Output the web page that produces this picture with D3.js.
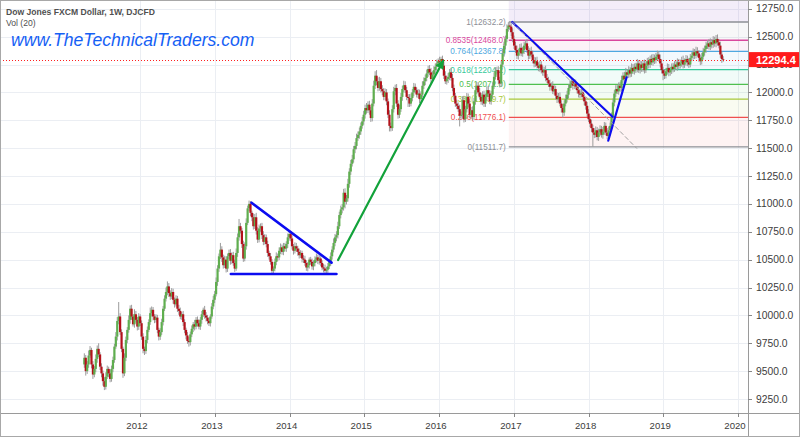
<!DOCTYPE html>
<html><head><meta charset="utf-8">
<script src="https://cdn.jsdelivr.net/npm/d3@7"></script>
<style>html,body{margin:0;padding:0;background:#fff;}svg{display:block;}</style>
</head><body><svg id="c" width="800" height="437"></svg>
<script>
// ---------- DATA ----------
const startDate = "2011-04-04";   // first weekly candle
const firstOpen = 9560;
const closes = [
9620,9500,9560,9640,9690,9560,9470,9520,9610,9700,
9650,9540,9480,9410,9360,9450,9520,9480,9430,9520,
9600,9720,9810,9950,9990,9850,9700,9480,9620,9780,
9870,9960,10060,9990,9920,10010,9960,9900,9990,9930,
9810,9700,9680,9780,9870,9940,10020,10050,9990,9960,
9980,9870,9810,9850,9940,10060,10150,10210,10260,10200,
10170,10210,10140,10100,10150,10060,10040,9990,10010,9940,
9870,9820,9770,9760,9830,9880,9920,9900,9960,9930,
9900,9960,10010,10050,10000,9980,9950,9930,9990,10080,
10140,10190,10300,10420,10530,10590,10520,10450,10500,10420,
10530,10560,10490,10540,10470,10420,10560,10700,10800,10760,
10640,10510,10620,10830,10960,11000,10920,10880,10800,10880,
10760,10680,10780,10800,10720,10660,10700,10640,10560,10530,
10480,10400,10420,10480,10530,10520,10580,10610,10570,10620,
10600,10640,10700,10730,10690,10620,10580,10620,10600,10570,
10540,10560,10510,10500,10470,10430,10450,10500,10480,10440,
10470,10500,10520,10490,10510,10470,10430,10420,10400,10410,
10440,10480,10530,10590,10650,10700,10720,10800,10900,10950,
10970,11100,11020,11050,11180,11290,11360,11400,11490,11520,
11590,11620,11650,11700,11740,11800,11860,11840,11890,11840,
11770,11900,12060,12150,12100,12040,12100,12030,12010,11960,
12000,11920,11800,11700,11680,11850,12010,12040,11900,11800,
11850,11960,12030,12065,12020,11960,11950,11900,11950,12000,
12050,12020,11980,11990,11940,11980,12060,12100,12130,12170,
12210,12180,12120,12160,12200,12230,12260,12280,12270,12300,
12240,12150,12100,12120,12140,12180,12130,12040,11970,11900,
11880,11850,11790,11800,11930,11760,11850,11960,11900,11800,
11840,11780,11920,12020,12060,12000,11960,11920,11980,11900,
11960,12020,11990,11920,11980,12060,12140,12190,12200,12110,
12080,12250,12350,12420,12480,12570,12600,12590,12540,12480,
12420,12380,12330,12360,12400,12350,12380,12420,12440,12380,
12330,12370,12340,12290,12260,12280,12240,12220,12250,12200,
12180,12200,12130,12110,12080,12050,12060,12010,12030,11970,
11940,11960,11900,11860,11820,11900,11940,11980,12040,12070,
12100,12060,12080,12050,12020,11990,11980,12000,11960,11920,
11880,11810,11760,11720,11680,11640,11620,11660,11600,11640,
11670,11620,11650,11700,11640,11610,11660,11700,11780,11910,
11990,12030,12010,12060,12040,12110,12150,12120,12180,12160,
12200,12170,12220,12190,12230,12210,12260,12200,12250,12220,
12260,12200,12240,12280,12250,12300,12270,12310,12290,12320,
12340,12300,12260,12200,12170,12150,12190,12220,12180,12200,
12230,12210,12250,12230,12270,12240,12260,12290,12250,12270,
12300,12270,12250,12310,12330,12360,12330,12370,12350,12310,
12280,12320,12360,12390,12420,12440,12410,12450,12430,12470,
12440,12480,12450,12420,12340,12300,12294.4
];
// wick extension above max(open,close) and below min(open,close), in index points
const upWick = [
40,25,30,45,35,20,30,25,40,30, 50,20,30,25,35,40,30,20,35,30,
30,25,40,35,130,30,25,20,40,30, 25,40,30,35,20,45,30,25,30,20,
25,30,20,35,30,25,50,30,25,20, 30,25,20,35,30,25,30,40,45,30,
25,35,30,20,30,25,35,30,20,30, 25,20,30,35,25,30,20,40,25,30,
35,25,30,20,35,30,25,30,20,30, 35,30,40,30,25,60,30,25,35,30,
25,30,35,25,30,30,40,35,65,30, 25,30,35,40,25,30,25,20,35,30,
40,30,35,25,30,35,30,25,30,20, 30,25,20,30,35,25,30,35,25,30,
30,25,35,30,25,30,20,35,30,25, 30,25,20,30,35,25,30,20,25,30,
25,30,35,25,30,20,25,30,35,25, 30,25,35,30,40,30,35,40,30,35,
30,35,40,30,45,30,35,40,30,35, 40,30,35,30,40,35,30,45,30,35,
30,40,45,40,50,35,40,30,35,30, 35,30,25,40,30,35,40,30,35,30,
40,35,30,40,35,30,25,35,40,30, 35,30,25,40,35,30,40,35,30,35,
30,35,40,30,35,30,35,25,40,20, 30,35,40,30,35,30,40,35,30,25,
35,30,40,30,35,40,30,35,30,40, 30,35,30,40,35,30,40,35,30,35,
30,35,40,30,35,30,40,35,30,35, 30,35,40,35,30,40,30,32.2,30,35,
30,35,40,30,35,40,30,35,30,40, 35,30,40,35,30,35,40,30,35,30,
35,30,40,35,30,35,30,40,35,30, 30,35,40,30,35,30,40,35,30,40,
35,30,40,35,30,35,40,30,35,30, 30,35,40,30,35,30,40,35,30,35,
35,30,40,35,30,40,35,30,40,35, 30,35,40,30,35,40,30,35,40,30,
35,30,40,35,30,35,40,30,35,30, 30,35,40,30,35,30,40,35,30,35,
35,30,40,35,30,35,30,40,35,30, 30,35,30,40,35,30,35,30,40,35,
35,30,40,35,30,35,30,40,35,30, 30,35,40,30,35,30,40,35,30,35,
30,35,40,30,35,30,25
];
const downWick = [
30,40,25,30,20,35,40,25,30,35, 25,30,35,40,30,25,20,35,30,25,
30,25,20,35,30,25,30,40,25,30, 30,25,35,30,20,30,25,35,30,25,
30,40,35,25,30,20,25,30,35,30, 25,30,35,30,25,30,20,25,30,35,
30,25,35,30,20,30,35,25,30,35, 30,35,25,40,30,25,30,35,25,30,
25,30,35,25,30,35,30,25,30,20, 25,30,20,35,30,25,40,30,25,35,
30,25,35,30,25,30,20,35,30,25, 35,30,25,30,20,25,30,35,30,25,
35,30,25,30,35,30,25,30,35,30, 25,30,30,25,30,35,25,30,25,30,
25,30,35,30,25,30,35,25,30,35, 30,25,35,30,25,30,35,30,25,30,
35,30,25,30,35,30,25,35,30,25, 30,25,35,30,25,30,35,30,25,30,
35,30,60,25,30,35,30,25,30,35, 30,25,35,30,25,30,35,30,25,40,
35,30,25,30,35,30,25,30,35,30, 30,35,30,50,30,25,30,35,30,35,
30,25,35,30,25,30,80,30,25,30, 35,30,25,30,35,30,25,30,35,30,
30,25,35,30,25,30,35,30,25,30, 35,30,25,30,35,30,25,30,35,30,
30,25,95,30,35,30,25,30,35,30, 35,30,25,30,35,30,25,30,35,30,
30,35,30,25,30,35,30,25,30,35, 35,30,25,30,35,30,25,30,35,30,
30,25,30,35,30,25,30,35,30,25, 35,30,25,30,35,30,25,30,35,30,
30,35,30,25,30,35,30,25,30,35, 35,30,25,40,45,30,25,30,35,30,
30,35,30,25,30,35,30,25,30,35, 35,30,25,30,35,128.3,30,25,30,35,
30,25,35,30,25,30,35,30,25,30, 35,30,25,30,35,30,25,30,35,30,
30,35,30,25,30,35,30,25,30,35, 35,30,25,30,35,30,25,30,35,30,
30,25,35,30,60,30,25,30,35,30, 35,30,25,30,35,30,25,30,35,30,
30,35,30,25,30,35,30,25,30,35, 35,30,25,30,35,30,25,30,35,30,
30,35,30,25,30,35,20
];
const yTickValues = [9250,9500,9750,10000,10250,10500,10750,11000,11250,11500,11750,12000,12250,12500,12750];
const xTickYears = [2012,2013,2014,2015,2016,2017,2018,2019,2020];
const lastPrice = 12294.4;
const fibRatios = [0, 0.236, 0.382, 0.5, 0.618, 0.764, 0.8535, 1];
const fibColors = ["#8d8f96","#ef4f4f","#a9c93a","#4fc04f","#35c99b","#4ea8e0","#d9479e","#8d8f96"];
const trendLines = [
  {from:["2013-06-29",11011], to:["2014-07-25",10473], color:"#0c0cf0", w:2.6},
  {from:["2013-03-20",10371], to:["2014-08-18",10371], color:"#0c0cf0", w:2.6},
  {from:["2014-08-26",10497], to:["2016-01-22",12285], color:"#12a23a", w:2.2, arrow:true},
  {from:["2016-12-24",12632.2], to:["2018-04-28",11782], color:"#0c0cf0", w:2.2},
  {from:["2018-04-07",11567], to:["2018-07-06",12136], color:"#0c0cf0", w:2.2},
  {from:["2016-12-24",12632.2], to:["2018-08-24",11499], color:"#a0a0a0", w:1, dash:"4,3"}
];
const titleText = "Dow Jones FXCM Dollar, 1W, DJCFD";
const volText = "Vol (20)";
const watermarkText = "www.TheTechnicalTraders.com";

// ---------- LAYOUT ----------
const W = 800, H = 437, plotR = 748, plotB = 413;
const svg = d3.select("#c");
const parse = d3.timeParse("%Y-%m-%d");
const x = d3.scaleTime().domain([parse("2010-02-16"), parse("2020-02-19")]).range([0, plotR]);
const y = d3.scaleLinear().domain([9124.5, 12829]).range([plotB, 0]);

const n = Math.min(closes.length, upWick.length, downWick.length);
const t0 = parse(startDate);
const candles = d3.range(n).map(i => {
  const o = i === 0 ? firstOpen : closes[i-1];
  const c = closes[i];
  return {date: d3.timeDay.offset(t0, 7*i), o, c,
          h: Math.max(o,c) + upWick[i], l: Math.min(o,c) - downWick[i]};
});

svg.append("rect").attr("width", W).attr("height", H).attr("fill", "#fff");

// clip
const defs = svg.append("defs");
defs.append("clipPath").attr("id","plot")
  .append("rect").attr("x",0).attr("y",0).attr("width",plotR).attr("height",plotB);
const g = svg.append("g").attr("clip-path","url(#plot)");

// grid
g.selectAll(".hg").data(yTickValues).enter().append("line")
  .attr("x1",0).attr("x2",plotR).attr("y1",d=>Math.round(y(d))+0.5).attr("y2",d=>Math.round(y(d))+0.5)
  .attr("stroke","#ebeef3").attr("stroke-width",1);
g.selectAll(".vg").data(xTickYears).enter().append("line")
  .attr("y1",0).attr("y2",plotB)
  .attr("x1",d=>Math.round(x(new Date(d,0,1)))+0.5).attr("x2",d=>Math.round(x(new Date(d,0,1)))+0.5)
  .attr("stroke","#ebeef3").attr("stroke-width",1);

// fib retracement from data
const pk = d3.maxIndex(candles, d=>d.h);
const lo = pk + d3.minIndex(candles.slice(pk), d=>d.l);
const fHigh = candles[pk].h, fLow = candles[lo].l;
const fx = x(candles[pk].date) - 1;
const levels = fibRatios.map((r,i)=>({r, p: fLow + r*(fHigh-fLow), color: fibColors[i]}));
g.append("rect").attr("x",fx).attr("y",0).attr("width",plotR-fx).attr("height",y(fHigh))
  .attr("fill","#8e5cc4").attr("opacity",0.11);
for (let i=0;i<levels.length-1;i++){
  const a = levels[i], b = levels[i+1];
  g.append("rect").attr("x",fx).attr("y",y(b.p)).attr("width",plotR-fx).attr("height",y(a.p)-y(b.p))
    .attr("fill",b.color).attr("opacity",0.07);
}
levels.forEach(L=>{
  g.append("line").attr("x1",fx).attr("x2",plotR).attr("y1",y(L.p)).attr("y2",y(L.p))
    .attr("stroke",L.color).attr("stroke-width",1.4);
  g.append("text").attr("x",fx-3).attr("y",y(L.p)+3).attr("text-anchor","end")
    .attr("font-family","Liberation Sans, Arial, sans-serif").attr("font-size",8.2)
    .attr("fill",L.color).text(`${L.r}(${L.p.toFixed(1)})`);
});

// candles
const cg = g.append("g");
cg.selectAll(".wk").data(candles).enter().append("line")
  .attr("x1",d=>x(d.date)).attr("x2",d=>x(d.date)).attr("y1",d=>y(d.h)).attr("y2",d=>y(d.l))
  .attr("stroke","#9c9c9c").attr("stroke-width",1);
cg.selectAll(".bd").data(candles).enter().append("rect")
  .attr("x",d=>x(d.date)-1.1).attr("width",2.2)
  .attr("y",d=>y(Math.max(d.o,d.c))).attr("height",d=>Math.max(0.8, Math.abs(y(d.o)-y(d.c))))
  .attr("fill",d=>d.c>=d.o?"#5fae4f":"#b3121b");

// last price dotted line
const ly = Math.round(y(lastPrice)) + 0.5;
g.append("line").attr("x1",0).attr("x2",plotR).attr("y1",ly).attr("y2",ly)
  .attr("stroke","#ff2020").attr("stroke-width",1).attr("stroke-dasharray","1,2");

// trend lines
defs.append("marker").attr("id","arr").attr("viewBox","0 0 10 10").attr("refX",9).attr("refY",5)
  .attr("markerWidth",5).attr("markerHeight",4).attr("orient","auto").attr("markerUnits","strokeWidth")
  .append("path").attr("d","M0,0 L10,5 L0,10 z").attr("fill","#12a23a");
trendLines.forEach(t=>{
  const l = g.append("line")
    .attr("x1",x(parse(t.from[0]))).attr("y1",y(t.from[1]))
    .attr("x2",x(parse(t.to[0]))).attr("y2",y(t.to[1]))
    .attr("stroke",t.color).attr("stroke-width",t.w).attr("stroke-linecap","round");
  if (t.dash) l.attr("stroke-dasharray",t.dash);
  if (t.arrow) l.attr("marker-end","url(#arr)");
});

// titles
svg.append("text").attr("x",6).attr("y",15).attr("font-family","Liberation Sans, Arial, sans-serif")
  .attr("font-size",8.6).attr("font-weight","bold").attr("fill","#505050").text(titleText);
svg.append("text").attr("x",6).attr("y",26).attr("font-family","Liberation Sans, Arial, sans-serif")
  .attr("font-size",8.6).attr("fill","#505050").text(volText);
svg.append("text").attr("x",11).attr("y",46).attr("font-family","Liberation Sans, Arial, sans-serif")
  .attr("font-size",17.6).attr("font-style","italic").attr("fill","#1560f5").text(watermarkText);

// axes frame
svg.append("line").attr("x1",plotR+0.5).attr("x2",plotR+0.5).attr("y1",0).attr("y2",H).attr("stroke","#9a9a9a");
svg.append("line").attr("x1",0).attr("x2",W).attr("y1",plotB+0.5).attr("y2",plotB+0.5).attr("stroke","#9a9a9a");

// right axis
const ra = svg.append("g");
yTickValues.forEach(v=>{
  ra.append("line").attr("x1",plotR).attr("x2",plotR+4).attr("y1",Math.round(y(v))+0.5).attr("y2",Math.round(y(v))+0.5).attr("stroke","#888");
  ra.append("text").attr("x",plotR+8).attr("y",y(v)+3.5).attr("font-family","Liberation Sans, Arial, sans-serif")
    .attr("font-size",10.3).attr("fill","#3c3c3c").text(d3.format(".1f")(v));
});
// bottom axis
xTickYears.forEach(yr=>{
  const xx = x(new Date(yr,0,1));
  svg.append("line").attr("x1",Math.round(xx)+0.5).attr("x2",Math.round(xx)+0.5).attr("y1",plotB).attr("y2",plotB+4).attr("stroke","#888");
  svg.append("text").attr("x",xx-3).attr("y",plotB+16).attr("text-anchor","middle")
    .attr("font-family","Liberation Sans, Arial, sans-serif").attr("font-size",9.6).attr("fill","#3c3c3c").text(yr);
});

// last price box
svg.append("rect").attr("x",plotR+1).attr("y",y(lastPrice)-7.5).attr("width",W-plotR-1).attr("height",15).attr("fill","#ff1a1a");
svg.append("text").attr("x",plotR+8).attr("y",y(lastPrice)+4).attr("font-family","Liberation Sans, Arial, sans-serif")
  .attr("font-size",11).attr("font-weight","bold").attr("fill","#fff").text(lastPrice.toFixed(1));

// outer border
svg.append("rect").attr("x",0.5).attr("y",0.5).attr("width",W-1).attr("height",H-1).attr("fill","none").attr("stroke","#a8a8a8");
</script></body></html>
